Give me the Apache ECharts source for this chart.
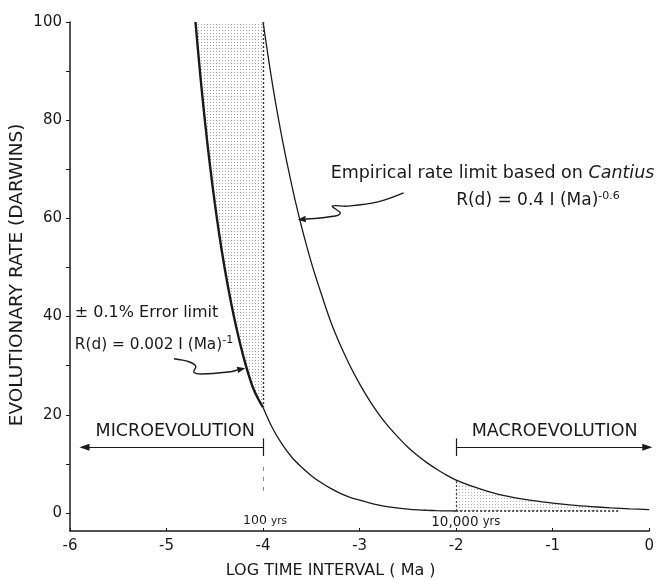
<!DOCTYPE html>
<html><head><meta charset="utf-8">
<script src="https://cdn.jsdelivr.net/npm/echarts@6/dist/echarts.min.js"></script>
<style>html,body{margin:0;padding:0;background:#fff}#c{width:657px;height:580px}</style>
</head><body><div id="c"></div>
<script>
// ---- data ----
const xTicks = [-6, -5, -4, -3, -2, -1, 0];
const yTicks = [0, 20, 40, 60, 80, 100];
const yAllTicks = [0, 10, 20, 30, 40, 50, 60, 70, 80, 90, 100];

// ±0.1% error limit curve, R(d) = 0.002 I(Ma)^-1
const errorX = [-4.70, -4.65, -4.60, -4.55, -4.50, -4.45, -4.40, -4.35, -4.30, -4.25, -4.20, -4.15, -4.10, -4.05, -4.00,
                -3.90, -3.80, -3.70, -3.60, -3.50, -3.40, -3.30, -3.20, -3.10, -3.00, -2.90, -2.80, -2.70, -2.60,
                -2.50, -2.40, -2.30, -2.20, -2.10, -2.00];
const errorY = [100, 89.1, 79.4, 70.8, 63.1, 56.2, 50.1, 44.7, 39.8, 35.5, 31.6, 28.2, 25.3, 23.2, 21.5,
                17.2, 13.9, 11.3, 9.3, 7.6, 6.2, 5.0, 4.0, 3.2, 2.6, 2.05, 1.6, 1.25, 1.0,
                0.8, 0.65, 0.55, 0.47, 0.42, 0.4];
// error-limit floor for macroevolution intervals (dotted)
const floorX = [-2.00, -1.50, -1.00, -0.50, -0.30];
const floorY = [0.4, 0.4, 0.4, 0.4, 0.4];

// Empirical rate limit based on Cantius, R(d) = 0.4 I(Ma)^-0.6
const empiricalX = [-4.00, -3.95, -3.90, -3.85, -3.80, -3.75, -3.70, -3.65, -3.60, -3.55, -3.50, -3.45, -3.40,
                    -3.30, -3.20, -3.10, -3.00, -2.90, -2.80, -2.70, -2.60, -2.50, -2.40, -2.30, -2.20, -2.10,
                    -2.00, -1.80, -1.60, -1.40, -1.20, -1.00, -0.80, -0.60, -0.40, -0.20, 0.00];
const empiricalY = [100, 93.3, 87, 81.3, 76, 71.1, 66.5, 62.2, 58.2, 54.5, 51, 47.8, 44.8,
                    39, 34.2, 30, 26.3, 23.0, 20.1, 17.6, 15.4, 13.4, 11.7, 10.2, 8.9, 7.7,
                    6.7, 5.2, 4.0, 3.15, 2.5, 2.0, 1.6, 1.3, 1.05, 0.85, 0.7];

const boundaryMicro = -4;   // 100 yrs
const boundaryMacro = -2;   // 10,000 yrs
const shadeMacroEnd = -0.5;

// ---- helpers ----
const zip = (xs, ys) => xs.map((x, i) => [x, ys[i]]);
const errUpper = zip(errorX, errorY).filter(p => p[0] <= boundaryMicro);
const errLower = zip(errorX, errorY).filter(p => p[0] >= boundaryMicro);
const empPts = zip(empiricalX, empiricalY);
const errAtMicro = errorY[errorX.indexOf(boundaryMicro)];
const empAtMacro = empiricalY[empiricalX.indexOf(boundaryMacro)];

function interp(xs, ys, x) {
  for (let i = 0; i < xs.length - 1; i++) {
    if (x >= xs[i] && x <= xs[i + 1]) {
      const t = (x - xs[i]) / (xs[i + 1] - xs[i]);
      return ys[i] + t * (ys[i + 1] - ys[i]);
    }
  }
  return ys[ys.length - 1];
}

// polygons (in data space)
const shadeMicro = [[errorX[0], 100]].concat(errUpper).concat([[boundaryMicro, 100]]);
const macroTop = empPts.filter(p => p[0] >= boundaryMacro && p[0] <= shadeMacroEnd);
const shadeMacro = [[boundaryMacro, floorY[0]]].concat(macroTop)
  .concat([[shadeMacroEnd, interp(empiricalX, empiricalY, shadeMacroEnd)], [shadeMacroEnd, floorY[0]]]);

function stipple(step, color) {
  const c = document.createElement('canvas');
  c.width = step; c.height = step;
  const g = c.getContext('2d');
  g.fillStyle = color;
  g.fillRect(0, 0, 1, 1);
  return { image: c, repeat: 'repeat' };
}

const FONT = 'DejaVu Sans';
const INK = '#1a1a1a';

const chart = echarts.init(document.getElementById('c'), null, { renderer: 'canvas' });

function polygonSeries(poly, fill) {
  return {
    type: 'custom', coordinateSystem: 'cartesian2d', silent: true, z: 1,
    data: [0],
    renderItem: function (params, api) {
      return {
        type: 'polygon',
        shape: { points: poly.map(p => api.coord(p)) },
        style: { fill: fill, stroke: null }
      };
    }
  };
}

const option = {
  animation: false,
  backgroundColor: '#fff',
  textStyle: { fontFamily: FONT, color: INK },
  grid: { left: 70, right: 2, top: 22, bottom: 49, containLabel: false },
  xAxis: {
    type: 'value', min: -6, max: 0, interval: 1,
    axisLine: { show: true, onZero: false, lineStyle: { color: INK, width: 1.5 } },
    axisTick: { show: true, inside: true, length: 3, lineStyle: { color: INK } },
    axisLabel: { fontSize: 15, color: INK, margin: 8, fontFamily: FONT,
      customValues: xTicks, formatter: v => String(v) },
    splitLine: { show: false }
  },
  yAxis: {
    type: 'value', min: -3.67, max: 100,
    axisLine: { show: true, onZero: false, lineStyle: { color: INK, width: 1.5 } },
    axisTick: { show: true, length: 4, customValues: yAllTicks, lineStyle: { color: INK } },
    axisLabel: { fontSize: 15, color: INK, margin: 8, customValues: yTicks, fontFamily: FONT },
    splitLine: { show: false }
  },
  series: [
    polygonSeries(shadeMicro, stipple(3, '#a0a0a0')),
    polygonSeries(shadeMacro, stipple(3, '#b4b4b4')),
    {
      name: 'error limit (micro)', type: 'line', data: errUpper, showSymbol: false, smooth: 0.3,
      lineStyle: { color: INK, width: 2.4 }, z: 3, silent: true
    },
    {
      name: 'error limit', type: 'line', data: errLower, showSymbol: false, smooth: 0.3,
      lineStyle: { color: INK, width: 1.3 }, z: 3, silent: true
    },
    {
      name: 'error floor', type: 'line', data: zip(floorX, floorY), showSymbol: false,
      lineStyle: { color: INK, width: 1.6, type: [2, 2] }, z: 3, silent: true
    },
    {
      name: 'empirical', type: 'line', data: empPts, showSymbol: false, smooth: 0.3,
      lineStyle: { color: INK, width: 1.3 }, z: 3, silent: true,
      markLine: {
        silent: true, symbol: 'none', label: { show: false }, animation: false,
        data: [
          [{ coord: [boundaryMicro, 100], lineStyle: { color: '#333', width: 1.4, type: [2, 2] } }, { coord: [boundaryMicro, errAtMicro] }],
          [{ coord: [boundaryMicro, 9.4], lineStyle: { color: '#888', width: 1, type: [4, 6] } }, { coord: [boundaryMicro, 3.3] }],
          [{ coord: [boundaryMacro, floorY[0]], lineStyle: { color: '#444', width: 1.2, type: [2, 2] } }, { coord: [boundaryMacro, empAtMacro] }],
          // MICRO / MACRO arrows
          [{ coord: [boundaryMicro, 13.4], symbol: 'none', lineStyle: { color: INK, width: 1.2, type: 'solid' } },
           { coord: [-5.85, 13.4], symbol: 'triangle', symbolSize: [7, 10], symbolRotate: 90 }],
          [{ coord: [boundaryMacro, 13.4], symbol: 'none', lineStyle: { color: INK, width: 1.2, type: 'solid' } },
           { coord: [-0.02, 13.4], symbol: 'triangle', symbolSize: [7, 10], symbolRotate: -90 }],
          [{ coord: [boundaryMicro, 15.2], lineStyle: { color: INK, width: 1.2, type: 'solid' } }, { coord: [boundaryMicro, 11.6] }],
          [{ coord: [boundaryMacro, 15.2], lineStyle: { color: INK, width: 1.2, type: 'solid' } }, { coord: [boundaryMacro, 11.6] }]
        ]
      }
    }
  ]
};
chart.setOption(option);

// ---- annotations, placed in data coordinates ----
const P = (x, y) => chart.convertToPixel({ gridIndex: 0 }, [x, y]);

function squiggle(pts) {
  const px = pts.map(p => P(p[0], p[1]));
  const a = px[px.length - 2], b = px[px.length - 1];
  const ang = Math.atan2(b[1] - a[1], b[0] - a[0]);
  const L = 8, W = 3.2;
  const base = [b[0] - L * Math.cos(ang), b[1] - L * Math.sin(ang)];
  const nx = -Math.sin(ang), ny = Math.cos(ang);
  return [
    { type: 'polyline', shape: { points: px.slice(0, -1).concat([base]), smooth: 0.35 },
      style: { stroke: INK, lineWidth: 1.4, fill: null }, z: 10 },
    { type: 'polygon', shape: { points: [b, [base[0] + nx * W, base[1] + ny * W], [base[0] - nx * W, base[1] - ny * W]] },
      style: { fill: INK }, z: 10 }
  ];
}

function label(x, y, text, opts) {
  const p = P(x, y);
  return {
    type: 'text', x: p[0], y: p[1], z: 10,
    style: Object.assign({ text: text, font: '16px "' + FONT + '"', fill: INK,
      align: 'left', verticalAlign: 'middle' }, opts || {})
  };
}

function supRich(size) {
  return {
    sup: { fontSize: 11, fontFamily: FONT, verticalAlign: 'top', padding: [0, 0, 9, 0], fill: INK },
    n: { fontSize: size, fontFamily: FONT, fill: INK }
  };
}

const xName = P(-3.3, 0);
const yName = P(-6, 48.5);
const graphic = [
  label(-3.3, 69.2, '{n|Empirical rate limit based on }{i|Cantius}', {
    rich: { n: { fontSize: 17.5, fontFamily: FONT }, i: { fontSize: 17.5, fontFamily: FONT, fontStyle: 'italic' } }
  }),
  label(-2.0, 63.6, '{n|R(d) = 0.4 I (Ma)}{sup|-0.6}', { rich: supRich(17) }),
  label(-5.95, 40.7, '± 0.1% Error limit', { font: '16px "' + FONT + '"' }),
  label(-5.95, 34.2, '{n|R(d) = 0.002 I (Ma)}{sup|-1}', { rich: supRich(15.3) }),
  label(-4.91, 16.6, 'MICROEVOLUTION', { align: 'center', font: '17.5px "' + FONT + '"' }),
  label(-0.98, 16.6, 'MACROEVOLUTION', { align: 'center', font: '17.5px "' + FONT + '"' }),
  label(-3.98, -1.6, '{a|100 }{b|yrs}', { align: 'center',
    rich: { a: { fontSize: 12.5, fontFamily: FONT }, b: { fontSize: 10.5, fontFamily: FONT } } }),
  label(-1.90, -1.9, '{a|10,000 }{b|yrs}', { align: 'center',
    rich: { a: { fontSize: 13.5, fontFamily: FONT }, b: { fontSize: 11.5, fontFamily: FONT } } }),
  { type: 'text', x: xName[0], y: 571, z: 10,
    style: { text: 'LOG TIME INTERVAL ( Ma )', font: '16px "' + FONT + '"', fill: INK, align: 'center', verticalAlign: 'middle' } },
  { type: 'text', x: 17, y: yName[1], rotation: Math.PI / 2, z: 10,
    style: { text: 'EVOLUTIONARY RATE (DARWINS)', font: '18.5px "' + FONT + '"', fill: INK, align: 'center', verticalAlign: 'middle' } }
].concat(squiggle([[-4.923, 31.4], [-4.769, 30.8], [-4.697, 29.9], [-4.718, 28.7], [-4.636, 28.3], [-4.359, 28.7], [-4.185, 29.5]]))
 .concat(squiggle([[-2.544, 65.2], [-2.821, 63.3], [-3.128, 62.5], [-3.282, 62.5], [-3.200, 61.1], [-3.251, 60.5], [-3.641, 59.7]]));

chart.setOption({ graphic: graphic });
</script>
</body></html>
